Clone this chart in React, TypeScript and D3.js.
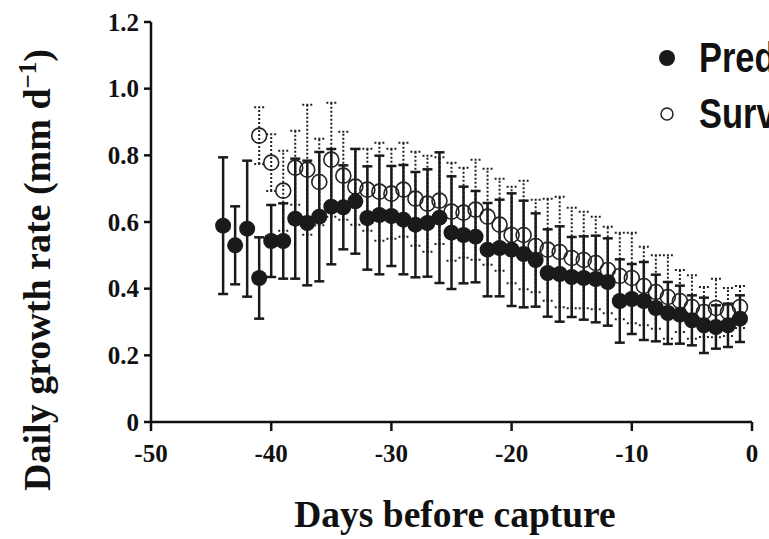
import React from "react";
import * as d3 from "d3";

const W = 769;
const H = 539;

// Days before capture
const predDays = [-44, -43, -42, -41, -40, -39, -38, -37, -36, -35, -34, -33, -32, -31, -30, -29, -28, -27, -26, -25, -24, -23, -22, -21, -20, -19, -18, -17, -16, -15, -14, -13, -12, -11, -10, -9, -8, -7, -6, -5, -4, -3, -2, -1];
const predMean = [0.589, 0.53, 0.58, 0.432, 0.543, 0.543, 0.61, 0.597, 0.616, 0.646, 0.644, 0.662, 0.612, 0.621, 0.618, 0.607, 0.592, 0.597, 0.613, 0.568, 0.561, 0.556, 0.517, 0.522, 0.517, 0.504, 0.486, 0.447, 0.444, 0.435, 0.432, 0.429, 0.42, 0.363, 0.369, 0.363, 0.342, 0.327, 0.322, 0.305, 0.29, 0.285, 0.29, 0.31];
const predErr = [0.205, 0.117, 0.204, 0.122, 0.108, 0.113, 0.18, 0.187, 0.194, 0.173, 0.126, 0.157, 0.155, 0.178, 0.15, 0.164, 0.158, 0.161, 0.196, 0.169, 0.145, 0.137, 0.14, 0.145, 0.169, 0.16, 0.14, 0.131, 0.143, 0.12, 0.125, 0.13, 0.131, 0.125, 0.105, 0.117, 0.1, 0.093, 0.087, 0.075, 0.083, 0.065, 0.065, 0.07];

const survDays = [-41, -40, -39, -38, -37, -36, -35, -34, -33, -32, -31, -30, -29, -28, -27, -26, -25, -24, -23, -22, -21, -20, -19, -18, -17, -16, -15, -14, -13, -12, -11, -10, -9, -8, -7, -6, -5, -4, -3, -2, -1];
const survMean = [0.859, 0.778, 0.694, 0.763, 0.757, 0.72, 0.787, 0.739, 0.706, 0.697, 0.691, 0.685, 0.697, 0.67, 0.655, 0.664, 0.631, 0.628, 0.637, 0.616, 0.592, 0.561, 0.561, 0.528, 0.517, 0.51, 0.492, 0.486, 0.477, 0.456, 0.438, 0.432, 0.408, 0.39, 0.375, 0.363, 0.345, 0.33, 0.342, 0.33, 0.345];
const survErr = [0.085, 0.085, 0.12, 0.111, 0.195, 0.13, 0.171, 0.132, 0.114, 0.123, 0.147, 0.135, 0.141, 0.141, 0.144, 0.13, 0.147, 0.135, 0.15, 0.144, 0.138, 0.145, 0.163, 0.139, 0.153, 0.166, 0.151, 0.145, 0.139, 0.13, 0.13, 0.136, 0.118, 0.11, 0.125, 0.093, 0.095, 0.075, 0.088, 0.072, 0.063];

const xTicks = [-50, -40, -30, -20, -10, 0];
const yTicks = [0, 0.2, 0.4, 0.6, 0.8, 1.0, 1.2];
const legendLabels = ["Predated", "Survivors"];

const serif = "'Liberation Serif', 'Times New Roman', serif";
const sans = "'Liberation Sans', Arial, sans-serif";

export default function App() {
  const x = d3.scaleLinear().domain([-50, 0]).range([151, 752]);
  const y = d3.scaleLinear().domain([0, 1.2]).range([422, 22]);
  const cap = 5;

  const surv = survDays.map((d, i) => ({ d, m: survMean[i], e: survErr[i] }));
  const pred = predDays.map((d, i) => ({ d, m: predMean[i], e: predErr[i] }));

  const yFmt = (v: number) => (v === 0 ? "0" : d3.format(".1f")(v));

  return (
    <svg width={W} height={H} style={{ position: "absolute", left: 0, top: 0, background: "#fff" }}>
      {/* Survivor error bars (dotted) */}
      <g stroke="#222" strokeWidth={2} strokeDasharray="2,2" fill="none">
        {surv.map((p, i) => (
          <g key={"se" + i}>
            <line x1={x(p.d)} x2={x(p.d)} y1={y(p.m - p.e)} y2={y(p.m + p.e)} />
            <line x1={x(p.d) - cap} x2={x(p.d) + cap} y1={y(p.m + p.e)} y2={y(p.m + p.e)} />
            <line x1={x(p.d) - cap} x2={x(p.d) + cap} y1={y(p.m - p.e)} y2={y(p.m - p.e)} />
          </g>
        ))}
      </g>
      {/* Predated error bars (solid) */}
      <g stroke="#1a1a1a" strokeWidth={2.5} fill="none">
        {pred.map((p, i) => (
          <g key={"pe" + i}>
            <line x1={x(p.d)} x2={x(p.d)} y1={y(p.m - p.e)} y2={y(p.m + p.e)} />
            <line x1={x(p.d) - cap} x2={x(p.d) + cap} y1={y(p.m + p.e)} y2={y(p.m + p.e)} />
            <line x1={x(p.d) - cap} x2={x(p.d) + cap} y1={y(p.m - p.e)} y2={y(p.m - p.e)} />
          </g>
        ))}
      </g>
      {/* Survivor open circles */}
      <g stroke="#222" strokeWidth={1.6} fill="none">
        {surv.map((p, i) => (
          <circle key={"sc" + i} cx={x(p.d)} cy={y(p.m)} r={7.5} />
        ))}
      </g>
      {/* Predated filled circles */}
      <g fill="#1a1a1a">
        {pred.map((p, i) => (
          <circle key={"pc" + i} cx={x(p.d)} cy={y(p.m)} r={8} />
        ))}
      </g>

      {/* Axes */}
      <g stroke="#111" strokeWidth={2.5} fill="none">
        <line x1={x(-50)} x2={x(-50)} y1={y(0)} y2={y(1.2)} />
        <line x1={x(-50)} x2={x(0)} y1={y(0)} y2={y(0)} />
        {yTicks.map((t) => (
          <line key={"yt" + t} x1={x(-50) - 7} x2={x(-50)} y1={y(t)} y2={y(t)} />
        ))}
        {xTicks.map((t) => (
          <line key={"xt" + t} x1={x(t)} x2={x(t)} y1={y(0)} y2={y(0) + 9} />
        ))}
      </g>
      <g fontFamily={serif} fontWeight="bold" fontSize={25} fill="#111">
        {yTicks.map((t) => (
          <text key={"yl" + t} x={x(-50) - 12} y={y(t)} dy="0.35em" textAnchor="end">
            {yFmt(t)}
          </text>
        ))}
        {xTicks.map((t) => (
          <text key={"xl" + t} x={x(t)} y={y(0) + 40} textAnchor="middle">
            {t}
          </text>
        ))}
      </g>

      <text x={455} y={527} textAnchor="middle" fontFamily={serif} fontWeight="bold" fontSize={37.5} fill="#111">
        Days before capture
      </text>
      <text
        transform={`translate(50, 270) rotate(-90)`}
        textAnchor="middle"
        fontFamily={serif}
        fontWeight="bold"
        fontSize={38}
        fill="#111"
      >
        Daily growth rate (mm d
        <tspan dy={-14} fontSize={25}>−1</tspan>
        <tspan dy={14}>)</tspan>
      </text>

      {/* Legend */}
      <circle cx={667} cy={58} r={8} fill="#1a1a1a" />
      <text transform="translate(699, 72) scale(0.82, 1)" fontFamily={sans} fontWeight="bold" fontSize={42} fill="#111">
        {legendLabels[0]}
      </text>
      <circle cx={667} cy={114} r={6} fill="none" stroke="#222" strokeWidth={1.5} />
      <text transform="translate(699, 128) scale(0.82, 1)" fontFamily={sans} fontWeight="bold" fontSize={42} fill="#111">
        {legendLabels[1]}
      </text>
    </svg>
  );
}
